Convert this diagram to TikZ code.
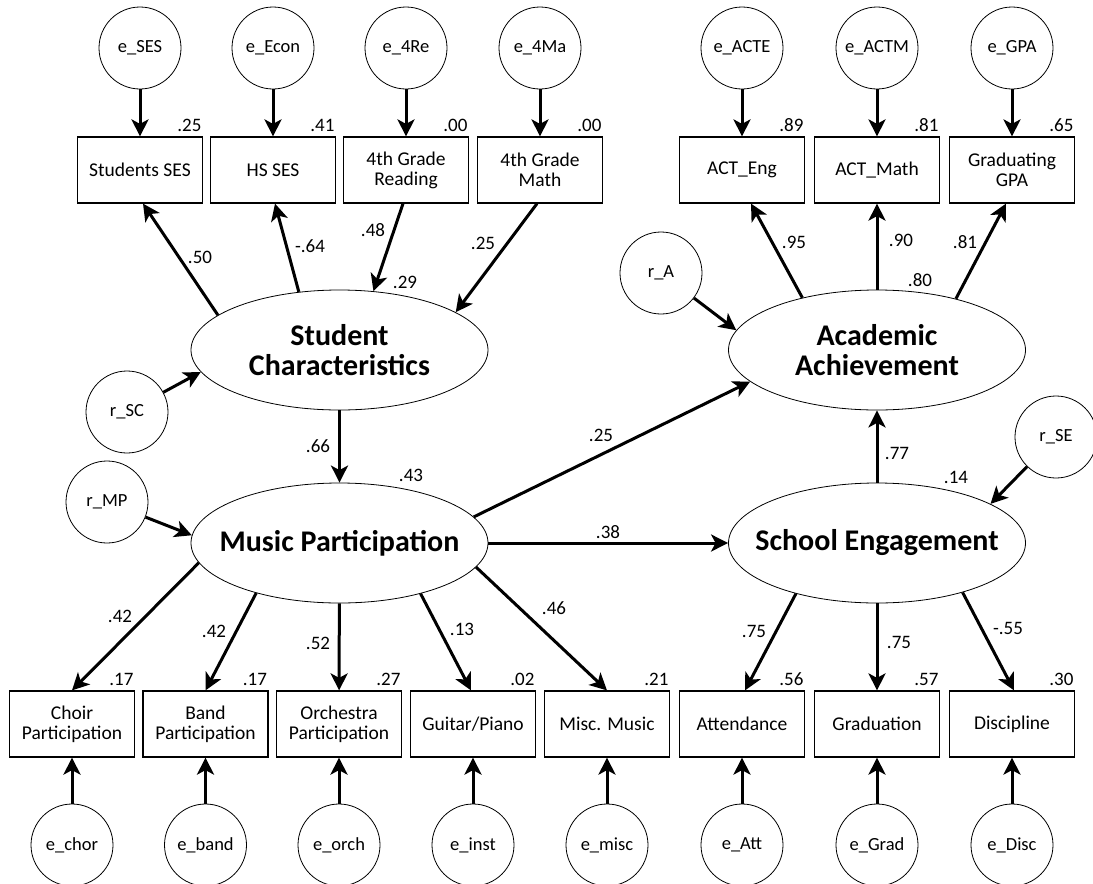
\documentclass[tikz,border=0pt]{standalone}
\usepackage{fontspec}
\setmainfont{Carlito}
\usetikzlibrary{shapes.geometric,arrows.meta}
\tikzset{
  errc/.style={circle,draw,line width=0.8pt,minimum size=82pt,inner sep=0pt,font=\fontsize{18.5}{20}\selectfont},
  obs/.style={rectangle,draw,line width=1.2pt,minimum width=125pt,minimum height=66pt,inner sep=0pt,align=center,font=\fontsize{19.5}{20}\selectfont},
  lat/.style={ellipse,draw,line width=0.8pt,minimum width=297pt,minimum height=120pt,inner xsep=-60pt,inner ysep=0pt,align=center,font=\bfseries\fontsize{30}{30}\selectfont},
  eff/.style={line width=3pt,-{Stealth[length=17pt,width=17pt,inset=4.5pt]}},
  coef/.style={inner sep=0pt,font=\fontsize{19}{20}\selectfont},
  rsq/.style={coef,anchor=south east,xshift=-1.5pt,yshift=5pt},
}
\newcommand{\errpt}[4][]{\node[errc,#1] at (#2) (#3) {#4}}
\newcommand{\obspt}[4][]{\node[obs,#1] at (#2) (#3) {#4}}
\newcommand{\latpt}[4][]{\node[lat,#1] at (#2) (#3) {#4}}

\begin{document}
\begin{tikzpicture}[x=1pt,y=1pt]
  \useasboundingbox (0,0) rectangle (1093,-884);
  % latent variables
  \latpt{339.5,-350}{SC}{Student\\Characteristics};
  \latpt{877,-350}{AA}{Academic\\Achievement};
  \latpt{339.5,-543}{MP}{Music Participation};
  \latpt{877,-543}{SE}{School Engagement};
  % indicators
  \obspt{140,-170}{ses}{Students SES};
  \obspt{273,-170}{hsses}{HS SES};
  \obspt{406,-170}{read}{4th Grade\\Reading};
  \obspt{540,-170}{math}{4th Grade\\Math};
  \obspt{742,-170}{acte}{ACT\_Eng};
  \obspt{877,-170}{actm}{ACT\_Math};
  \obspt{1012,-170}{gpa}{Graduating\\GPA};
  \obspt{72,-724}{chor}{Choir\\Participation};
  \obspt{205.5,-724}{band}{Band\\Participation};
  \obspt{339,-724}{orch}{Orchestra\\Participation};
  \obspt{473,-724}{inst}{Guitar/Piano};
  \obspt{607,-724}{misc}{Misc. Music};
  \obspt{742,-724}{att}{Attendance};
  \obspt{877,-724}{grad}{Graduation};
  \obspt{1012,-724}{disc}{Discipline};
  % errors and residuals
  \errpt{140,-48}{eSES}{e\_SES};
  \errpt{273,-48}{eEcon}{e\_Econ};
  \errpt{406,-48}{e4Re}{e\_4Re};
  \errpt{540,-48}{e4Ma}{e\_4Ma};
  \errpt{742,-48}{eACTE}{e\_ACTE};
  \errpt{877,-48}{eACTM}{e\_ACTM};
  \errpt{1012,-48}{eGPA}{e\_GPA};
  \errpt{72,-845}{echor}{e\_chor};
  \errpt{205.5,-845}{eband}{e\_band};
  \errpt{339,-845}{eorch}{e\_orch};
  \errpt{473,-845}{einst}{e\_inst};
  \errpt{607,-845}{emisc}{e\_misc};
  \errpt{742,-845}{eAtt}{e\_Att};
  \errpt{877,-845}{eGrad}{e\_Grad};
  \errpt{1012,-845}{eDisc}{e\_Disc};
  \errpt{127,-412}{rSC}{r\_SC};
  \errpt{661,-273}{rA}{r\_A};
  \errpt{107,-502}{rMP}{r\_MP};
  \errpt{1056,-437}{rSE}{r\_SE};
  % paths
  \draw[eff] (eSES) -- (ses);
  \draw[eff] (eEcon) -- (hsses);
  \draw[eff] (e4Re) -- (read);
  \draw[eff] (e4Ma) -- (math);
  \draw[eff] (eACTE) -- (acte);
  \draw[eff] (eACTM) -- (actm);
  \draw[eff] (eGPA) -- (gpa);
  \draw[eff] (echor) -- (chor);
  \draw[eff] (eband) -- (band);
  \draw[eff] (eorch) -- (orch);
  \draw[eff] (einst) -- (inst);
  \draw[eff] (emisc) -- (misc);
  \draw[eff] (eAtt) -- (att);
  \draw[eff] (eGrad) -- (grad);
  \draw[eff] (eDisc) -- (disc);
  \draw[eff] (SC.164) -- ([xshift=3pt]ses.south);
  \draw[eff] (SC.125) -- ([xshift=2pt]hsses.south);
  \draw[eff] ([xshift=-3pt]read.south) -- (SC.60);
  \draw[eff] ([xshift=-3pt]math.south) -- (SC.18);
  \draw[eff] (rSC) -- (SC.189);
  \draw[eff] (SC) -- (MP);
  \draw[eff] (rMP) -- (MP.177);
  \draw[eff] (MP.188) -- (chor.north);
  \draw[eff] (MP.211) -- (band.north);
  \draw[eff] (MP) -- (orch);
  \draw[eff] (MP.328) -- ([xshift=-2pt]inst.north);
  \draw[eff] (MP.350) -- (misc.north);
  \draw[eff] (MP.11) -- (AA.194);
  \draw[eff] (MP) -- (SE);
  \draw[eff] (rA) -- (AA.172);
  \draw[eff] (AA.145) -- ([xshift=9pt]acte.south);
  \draw[eff] (AA) -- (actm);
  \draw[eff] (AA.33) -- ([xshift=-6pt]gpa.south);
  \draw[eff] (SE) -- (AA);
  \draw[eff] (rSE) -- (SE.19);
  \draw[eff] (SE.212) -- ([xshift=3pt]att.north);
  \draw[eff] (SE) -- (grad);
  \draw[eff] (SE.330) -- ([xshift=2pt]disc.north);
  % coefficients
  \node[coef] (w-ses) at (200,-257) {.50};
  \node[coef] (w-hsses) at (310,-246) {-.64};
  \node[coef] (w-read) at (373,-230) {.48};
  \node[coef] (w-math) at (483,-243) {.25};
  \node[coef] (w-acte) at (794,-242) {.95};
  \node[coef] (w-actm) at (901,-240) {.90};
  \node[coef] (w-gpa) at (965,-242) {.81};
  \node[coef] (w-mp) at (318,-446) {.66};
  \node[coef] (w-aa) at (601,-435) {.25};
  \node[coef] (w-se) at (608,-532) {.38};
  \node[coef] (w-seaa) at (897,-453) {.77};
  \node[coef] (w-chor) at (120,-616) {.42};
  \node[coef] (w-band) at (214,-631) {.42};
  \node[coef] (w-orch) at (318,-643) {.52};
  \node[coef] (w-inst) at (462,-629) {.13};
  \node[coef] (w-misc) at (554,-608) {.46};
  \node[coef] (w-att) at (754,-631) {.75};
  \node[coef] (w-grad) at (899,-642) {.75};
  \node[coef] (w-disc) at (1008,-628) {-.55};
  % squared multiple correlations
  \node[coef] (r2-SC) at (405,-282) {.29};
  \node[coef] (r2-AA) at (920,-280) {.80};
  \node[coef] (r2-MP) at (411,-475) {.43};
  \node[coef] (r2-SE) at (956,-477) {.14};
  \node[rsq] (r2-ses) at (ses.north east) {.25};
  \node[rsq] (r2-hsses) at (hsses.north east) {.41};
  \node[rsq] (r2-read) at (read.north east) {.00};
  \node[rsq] (r2-math) at (math.north east) {.00};
  \node[rsq] (r2-acte) at (acte.north east) {.89};
  \node[rsq] (r2-actm) at (actm.north east) {.81};
  \node[rsq] (r2-gpa) at (gpa.north east) {.65};
  \node[rsq] (r2-chor) at (chor.north east) {.17};
  \node[rsq] (r2-band) at (band.north east) {.17};
  \node[rsq] (r2-orch) at (orch.north east) {.27};
  \node[rsq] (r2-inst) at (inst.north east) {.02};
  \node[rsq] (r2-misc) at (misc.north east) {.21};
  \node[rsq] (r2-att) at (att.north east) {.56};
  \node[rsq] (r2-grad) at (grad.north east) {.57};
  \node[rsq] (r2-disc) at (disc.north east) {.30};
\end{tikzpicture}
\end{document}
